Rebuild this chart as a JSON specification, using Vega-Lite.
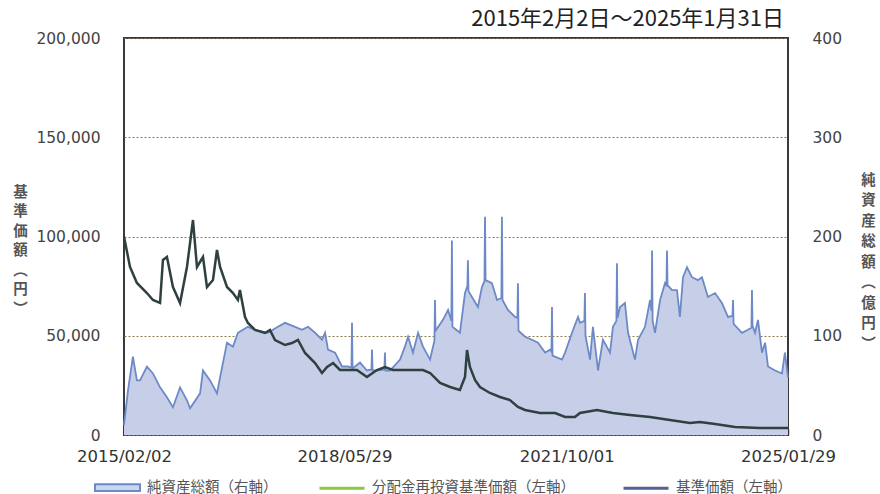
{
  "$schema": "https://vega.github.io/schema/vega-lite/v6.json",
  "width": 664,
  "height": 397,
  "autosize": "none",
  "padding": {"left": 124, "top": 38, "right": 92, "bottom": 59},
  "background": "white",
  "config": {
    "view": {"fill": "#fffcdc", "stroke": "#3a3a3a", "strokeWidth": 2},
    "font": "Noto Sans CJK JP"
  },
  "title": {
    "text": "2015年2月2日～2025年1月31日",
    "anchor": "end",
    "frame": "group",
    "fontSize": 22,
    "fontWeight": "normal",
    "color": "#222222",
    "offset": 0,
    "dx": -4,
    "font": "Noto Sans CJK JP"
  },
  "datasets": {
    "nav": [
      {"date": "2015-02-02", "nav": 10},
      {"date": "2015-02-07", "nav": 18},
      {"date": "2015-02-24", "nav": 45},
      {"date": "2015-03-23", "nav": 79},
      {"date": "2015-04-14", "nav": 55},
      {"date": "2015-05-01", "nav": 55},
      {"date": "2015-06-08", "nav": 69},
      {"date": "2015-07-11", "nav": 62},
      {"date": "2015-08-19", "nav": 48},
      {"date": "2015-09-26", "nav": 38},
      {"date": "2015-10-29", "nav": 28},
      {"date": "2015-12-07", "nav": 48},
      {"date": "2016-01-14", "nav": 35},
      {"date": "2016-01-31", "nav": 27},
      {"date": "2016-03-26", "nav": 42},
      {"date": "2016-04-11", "nav": 65},
      {"date": "2016-05-20", "nav": 55},
      {"date": "2016-06-27", "nav": 42},
      {"date": "2016-07-14", "nav": 58},
      {"date": "2016-08-21", "nav": 93},
      {"date": "2016-09-23", "nav": 89},
      {"date": "2016-10-20", "nav": 103},
      {"date": "2016-12-14", "nav": 109},
      {"date": "2017-01-22", "nav": 106},
      {"date": "2017-04-03", "nav": 103},
      {"date": "2017-05-28", "nav": 109},
      {"date": "2017-07-06", "nav": 113},
      {"date": "2017-08-30", "nav": 109},
      {"date": "2017-10-07", "nav": 106},
      {"date": "2017-11-09", "nav": 109},
      {"date": "2017-12-18", "nav": 103},
      {"date": "2018-01-25", "nav": 96},
      {"date": "2018-02-11", "nav": 103},
      {"date": "2018-02-27", "nav": 86},
      {"date": "2018-04-07", "nav": 83},
      {"date": "2018-05-15", "nav": 69},
      {"date": "2018-06-17", "nav": 69},
      {"date": "2018-07-06", "nav": 68},
      {"date": "2018-07-09", "nav": 113},
      {"date": "2018-07-12", "nav": 67},
      {"date": "2018-08-22", "nav": 73},
      {"date": "2018-09-29", "nav": 65},
      {"date": "2018-10-24", "nav": 66},
      {"date": "2018-10-27", "nav": 86},
      {"date": "2018-10-30", "nav": 65},
      {"date": "2018-11-23", "nav": 65},
      {"date": "2019-01-03", "nav": 66},
      {"date": "2019-01-06", "nav": 83},
      {"date": "2019-01-09", "nav": 65},
      {"date": "2019-02-03", "nav": 65},
      {"date": "2019-03-30", "nav": 76},
      {"date": "2019-04-26", "nav": 89},
      {"date": "2019-05-13", "nav": 99},
      {"date": "2019-06-09", "nav": 83},
      {"date": "2019-07-07", "nav": 103},
      {"date": "2019-08-03", "nav": 89},
      {"date": "2019-09-11", "nav": 76},
      {"date": "2019-10-05", "nav": 95},
      {"date": "2019-10-08", "nav": 136},
      {"date": "2019-10-11", "nav": 105},
      {"date": "2019-11-21", "nav": 116},
      {"date": "2019-12-19", "nav": 126},
      {"date": "2020-01-06", "nav": 115},
      {"date": "2020-01-09", "nav": 196},
      {"date": "2020-01-12", "nav": 109},
      {"date": "2020-02-22", "nav": 103},
      {"date": "2020-03-21", "nav": 143},
      {"date": "2020-04-03", "nav": 150},
      {"date": "2020-04-06", "nav": 176},
      {"date": "2020-04-09", "nav": 145},
      {"date": "2020-04-28", "nav": 139},
      {"date": "2020-05-31", "nav": 129},
      {"date": "2020-06-22", "nav": 149},
      {"date": "2020-07-06", "nav": 155},
      {"date": "2020-07-09", "nav": 220},
      {"date": "2020-07-12", "nav": 156},
      {"date": "2020-08-16", "nav": 153},
      {"date": "2020-09-13", "nav": 136},
      {"date": "2020-10-07", "nav": 138},
      {"date": "2020-10-10", "nav": 220},
      {"date": "2020-10-13", "nav": 136},
      {"date": "2020-11-12", "nav": 126},
      {"date": "2020-12-21", "nav": 119},
      {"date": "2021-01-03", "nav": 118},
      {"date": "2021-01-06", "nav": 153},
      {"date": "2021-01-09", "nav": 105},
      {"date": "2021-02-14", "nav": 99},
      {"date": "2021-03-24", "nav": 96},
      {"date": "2021-04-26", "nav": 93},
      {"date": "2021-06-04", "nav": 83},
      {"date": "2021-07-01", "nav": 86},
      {"date": "2021-07-09", "nav": 84},
      {"date": "2021-07-12", "nav": 129},
      {"date": "2021-07-15", "nav": 80},
      {"date": "2021-09-05", "nav": 76},
      {"date": "2021-09-22", "nav": 83},
      {"date": "2021-10-30", "nav": 103},
      {"date": "2021-12-02", "nav": 119},
      {"date": "2021-12-13", "nav": 113},
      {"date": "2022-01-06", "nav": 115},
      {"date": "2022-01-09", "nav": 143},
      {"date": "2022-01-12", "nav": 100},
      {"date": "2022-02-06", "nav": 76},
      {"date": "2022-02-22", "nav": 109},
      {"date": "2022-03-22", "nav": 65},
      {"date": "2022-04-18", "nav": 96},
      {"date": "2022-05-27", "nav": 83},
      {"date": "2022-06-12", "nav": 109},
      {"date": "2022-07-01", "nav": 115},
      {"date": "2022-07-04", "nav": 173},
      {"date": "2022-07-07", "nav": 118},
      {"date": "2022-07-21", "nav": 129},
      {"date": "2022-08-17", "nav": 133},
      {"date": "2022-09-03", "nav": 103},
      {"date": "2022-10-11", "nav": 76},
      {"date": "2022-10-28", "nav": 96},
      {"date": "2022-12-05", "nav": 109},
      {"date": "2023-01-02", "nav": 136},
      {"date": "2023-01-10", "nav": 125},
      {"date": "2023-01-13", "nav": 186},
      {"date": "2023-01-16", "nav": 115},
      {"date": "2023-01-29", "nav": 103},
      {"date": "2023-02-26", "nav": 136},
      {"date": "2023-03-25", "nav": 153},
      {"date": "2023-04-02", "nav": 150},
      {"date": "2023-04-05", "nav": 186},
      {"date": "2023-04-08", "nav": 151},
      {"date": "2023-05-03", "nav": 146},
      {"date": "2023-05-30", "nav": 146},
      {"date": "2023-06-15", "nav": 119},
      {"date": "2023-07-02", "nav": 159},
      {"date": "2023-07-24", "nav": 169},
      {"date": "2023-08-20", "nav": 159},
      {"date": "2023-09-22", "nav": 156},
      {"date": "2023-10-14", "nav": 159},
      {"date": "2023-11-16", "nav": 139},
      {"date": "2023-12-25", "nav": 143},
      {"date": "2024-02-01", "nav": 133},
      {"date": "2024-03-05", "nav": 119},
      {"date": "2024-03-30", "nav": 120},
      {"date": "2024-04-02", "nav": 136},
      {"date": "2024-04-05", "nav": 112},
      {"date": "2024-05-21", "nav": 103},
      {"date": "2024-06-23", "nav": 106},
      {"date": "2024-07-12", "nav": 108},
      {"date": "2024-07-15", "nav": 146},
      {"date": "2024-07-18", "nav": 110},
      {"date": "2024-08-01", "nav": 103},
      {"date": "2024-08-17", "nav": 116},
      {"date": "2024-09-08", "nav": 83},
      {"date": "2024-09-25", "nav": 93},
      {"date": "2024-10-11", "nav": 69},
      {"date": "2024-11-19", "nav": 65},
      {"date": "2024-12-27", "nav": 62},
      {"date": "2025-01-12", "nav": 83},
      {"date": "2025-01-29", "nav": 58}
    ],
    "price": [
      {"date": "2015-02-02", "price": 100000},
      {"date": "2015-03-07", "price": 84640},
      {"date": "2015-04-14", "price": 76580},
      {"date": "2015-06-08", "price": 71540},
      {"date": "2015-07-11", "price": 68010},
      {"date": "2015-08-19", "price": 66500},
      {"date": "2015-09-04", "price": 88170},
      {"date": "2015-09-26", "price": 89680},
      {"date": "2015-10-29", "price": 74560},
      {"date": "2015-12-07", "price": 66500},
      {"date": "2016-01-14", "price": 84640},
      {"date": "2016-01-31", "price": 96730},
      {"date": "2016-02-16", "price": 108320},
      {"date": "2016-03-09", "price": 84640},
      {"date": "2016-04-11", "price": 89680},
      {"date": "2016-05-03", "price": 74560},
      {"date": "2016-06-05", "price": 78090},
      {"date": "2016-06-27", "price": 93200},
      {"date": "2016-07-14", "price": 84640},
      {"date": "2016-08-21", "price": 74560},
      {"date": "2016-09-23", "price": 71540},
      {"date": "2016-10-20", "price": 68010},
      {"date": "2016-10-31", "price": 73050},
      {"date": "2016-11-28", "price": 59450},
      {"date": "2016-12-14", "price": 56430},
      {"date": "2017-01-22", "price": 52900},
      {"date": "2017-03-18", "price": 51390},
      {"date": "2017-04-14", "price": 52900},
      {"date": "2017-05-12", "price": 47860},
      {"date": "2017-07-06", "price": 45340},
      {"date": "2017-08-13", "price": 46350},
      {"date": "2017-09-15", "price": 47860},
      {"date": "2017-10-24", "price": 41310},
      {"date": "2017-12-18", "price": 36270},
      {"date": "2018-01-25", "price": 31240},
      {"date": "2018-02-22", "price": 34260},
      {"date": "2018-03-27", "price": 36270},
      {"date": "2018-05-04", "price": 32750},
      {"date": "2018-06-28", "price": 32750},
      {"date": "2018-08-05", "price": 32750},
      {"date": "2018-09-29", "price": 29220},
      {"date": "2018-11-23", "price": 32750},
      {"date": "2019-01-06", "price": 34260},
      {"date": "2019-02-19", "price": 32750},
      {"date": "2019-04-15", "price": 32750},
      {"date": "2019-06-09", "price": 32750},
      {"date": "2019-08-03", "price": 32750},
      {"date": "2019-09-11", "price": 31240},
      {"date": "2019-11-05", "price": 26200},
      {"date": "2019-12-30", "price": 24180},
      {"date": "2020-02-22", "price": 22670},
      {"date": "2020-03-21", "price": 29220},
      {"date": "2020-04-01", "price": 42820},
      {"date": "2020-04-17", "price": 34260},
      {"date": "2020-05-15", "price": 27710},
      {"date": "2020-06-11", "price": 24180},
      {"date": "2020-08-05", "price": 21160},
      {"date": "2020-09-29", "price": 19140},
      {"date": "2020-11-23", "price": 17630},
      {"date": "2021-01-06", "price": 14110},
      {"date": "2021-02-14", "price": 12600},
      {"date": "2021-05-07", "price": 11080},
      {"date": "2021-07-29", "price": 11080},
      {"date": "2021-09-22", "price": 9070},
      {"date": "2021-11-15", "price": 9070},
      {"date": "2021-12-13", "price": 11080},
      {"date": "2022-03-16", "price": 12600},
      {"date": "2022-06-12", "price": 11080},
      {"date": "2022-09-14", "price": 10080},
      {"date": "2023-01-02", "price": 9070},
      {"date": "2023-04-21", "price": 7560},
      {"date": "2023-08-09", "price": 6050},
      {"date": "2023-10-03", "price": 6550},
      {"date": "2023-12-25", "price": 5540},
      {"date": "2024-04-13", "price": 4030},
      {"date": "2024-08-28", "price": 3530},
      {"date": "2025-01-29", "price": 3530}
    ],
    "legendArea": [
      {"series": "純資産総額（右軸）"}
    ],
    "legendLines": [
      {"series": "分配金再投資基準価額（左軸）"},
      {"series": "基準価額（左軸）"}
    ]
  },
  "layer": [
    {
      "data": {"name": "nav"},
      "mark": {"type": "area", "color": "#c6cfe7", "opacity": 1, "line": {"color": "#6d89c6", "strokeWidth": 1.8}},
      "encoding": {
        "x": {
          "field": "date", "type": "temporal",
          "scale": {"type": "utc", "domain": [{"year": 2015, "month": 2, "date": 2, "utc": true}, {"year": 2025, "month": 1, "date": 29, "utc": true}]},
          "axis": {
            "title": null,
            "values": [{"year": 2015, "month": 2, "date": 2, "utc": true}, {"year": 2018, "month": 5, "date": 29, "utc": true}, {"year": 2021, "month": 10, "date": 1, "utc": true}, {"year": 2025, "month": 1, "date": 29, "utc": true}],
            "format": "%Y/%m/%d",
            "labelFont": "DejaVu Sans",
            "labelFontSize": 16.5,
            "labelColor": "#333333",
            "labelFlush": false,
            "labelOverlap": false,
            "labelPadding": 19,
            "grid": false,
            "domain": false,
            "ticks": true,
            "tickSize": -6,
            "tickWidth": 1.5,
            "tickColor": "#333333"
          }
        },
        "y": {
          "field": "nav", "type": "quantitative",
          "scale": {"domain": [0, 400], "nice": false},
          "axis": {
            "orient": "right",
            "values": [0, 100, 200, 300, 400],
            "grid": false,
            "domain": false,
            "ticks": false,
            "labelPadding": 24,
            "labelFont": "DejaVu Sans",
            "labelFontSize": 15.5,
            "labelColor": "#444444",
            "title": ["純", "資", "産", "総", "額", "︵", "億", "円", "︶"],
            "titleAngle": 0,
            "titleX": 80,
            "titleY": 135,
            "titleAlign": "center",
            "titleBaseline": "top",
            "titleFontSize": 14.5,
            "titleLineHeight": 20.5,
            "titleColor": "#555555",
            "titleFontWeight": "bold"
          }
        }
      }
    },
    {
      "data": {"name": "price"},
      "mark": {"type": "line", "color": "#2e4040", "strokeWidth": 2.5},
      "encoding": {
        "x": {"field": "date", "type": "temporal"},
        "y": {
          "field": "price", "type": "quantitative",
          "scale": {"domain": [0, 200000], "nice": false},
          "axis": {
            "orient": "left",
            "values": [0, 50000, 100000, 150000, 200000],
            "format": ",d",
            "grid": true,
            "gridColor": "#8c7b4a",
            "gridDash": [2, 2],
            "gridWidth": 1,
            "domain": false,
            "ticks": false,
            "labelPadding": 24,
            "labelFont": "DejaVu Sans",
            "labelFontSize": 15.5,
            "labelColor": "#444444",
            "title": ["基", "準", "価", "額", "︵", "円", "︶"],
            "titleAngle": 0,
            "titleX": -104,
            "titleY": 147,
            "titleAlign": "center",
            "titleBaseline": "top",
            "titleFontSize": 14.5,
            "titleLineHeight": 19.5,
            "titleColor": "#555555",
            "titleFontWeight": "bold"
          }
        }
      }
    },
    {
      "data": {"name": "legendArea"},
      "mark": {"type": "point", "opacity": 0, "filled": true},
      "encoding": {
        "fill": {
          "field": "series", "type": "nominal",
          "scale": {"domain": ["純資産総額（右軸）"], "range": ["#c9d6f0"]},
          "legend": {
            "title": null,
            "orient": "none",
            "direction": "horizontal",
            "legendX": -30,
            "legendY": 426,
            "padding": 0,
            "symbolType": "M-1,-0.15H1V0.15H-1Z",
            "symbolSize": 2025,
            "symbolStrokeColor": "#6d89c6",
            "symbolStrokeWidth": 2,
            "symbolOpacity": 1,
            "labelOffset": 6,
            "labelFontSize": 14.5,
            "labelColor": "#555555",
            "labelLimit": 400
          }
        }
      }
    },
    {
      "data": {"name": "legendLines"},
      "mark": {"type": "point", "opacity": 0, "filled": false},
      "encoding": {
        "stroke": {
          "field": "series", "type": "nominal",
          "scale": {"domain": ["分配金再投資基準価額（左軸）", "基準価額（左軸）"], "range": ["#8dc63f", "#5b5e94"]},
          "legend": {
            "title": null,
            "orient": "none",
            "direction": "horizontal",
            "legendX": 194,
            "legendY": 426,
            "padding": 0,
            "columnPadding": 42,
            "symbolType": "M-1,0H1",
            "symbolSize": 2025,
            "symbolStrokeWidth": 3,
            "symbolOpacity": 1,
            "labelOffset": 6,
            "labelFontSize": 14.5,
            "labelColor": "#555555",
            "labelLimit": 400
          }
        }
      }
    }
  ],
  "resolve": {"scale": {"y": "independent"}}
}
